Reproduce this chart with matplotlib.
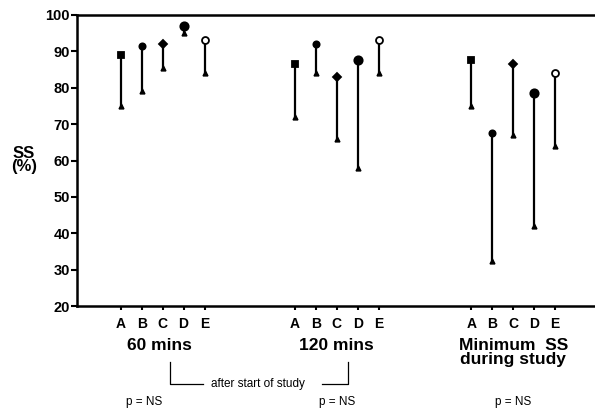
import matplotlib
matplotlib.use("Agg")
import matplotlib.pyplot as plt

plt.rcParams['font.family'] = ['Liberation Sans', 'DejaVu Sans']

letters = ['A', 'B', 'C', 'D', 'E']
groups = ['60 mins', '120 mins', 'Minimum  SS\nduring study']
p_labels = ['p = NS', 'p = NS', 'p = NS']

# top / bottom of each range, per group (A..E)
tops_60 = [89, 91.5, 92, 97, 93]
lows_60 = [75, 79, 85.5, 95, 84]
tops_120 = [86.5, 92, 83, 87.5, 93]
lows_120 = [72, 84, 66, 58, 84]
tops_min = [87.5, 67.5, 86.5, 78.5, 84]
lows_min = [75, 32.5, 67, 42, 64]

tops = [tops_60, tops_120, tops_min]
lows = [lows_60, lows_120, lows_min]
offsets = [0, 8.3, 16.7]

markers = ['s', 'o', 'D', 'o', 'o']
msizes = [4, 4.5, 4.5, 6, 5]
faces = ['black', 'black', 'black', 'black', 'white']

fig = plt.figure(figsize=(5.95, 4.09), dpi=100)
ax = fig.add_axes([77 / 595, 1 - 306 / 409, 1 - 77 / 595, 291 / 409])

xticks = []
xlabels = []
for g in range(3):
    for i in range(5):
        x = offsets[g] + i
        xticks.append(x)
        xlabels.append(letters[i])
        ax.vlines(x, lows[g][i], tops[g][i], color='black', lw=1.6)
        ax.plot(x, lows[g][i], marker='^', ms=3.5, color='black')
        ax.plot(x, tops[g][i], marker=markers[i], ms=msizes[i],
                mfc=faces[i], mec='black', mew=1.3, color='black')

ax.set_xlim(-2.08, 22.6)
ax.set_ylim(20, 100)
ax.set_yticks(range(20, 101, 10))
ax.set_xticks(xticks)
ax.set_xticklabels(xlabels, fontweight='bold', fontsize=10)
for lab in ax.get_yticklabels():
    lab.set_fontweight('bold')
    lab.set_fontsize(10.5)
ax.tick_params(axis='y', direction='out', length=4, width=1.5, pad=1)
ax.tick_params(axis='x', direction='out', length=3, width=1.5, pad=5)

ax.spines['right'].set_visible(False)
for s in ['left', 'top', 'bottom']:
    ax.spines[s].set_linewidth(1.8)

# group labels under the letters
trans = ax.get_xaxis_transform()
for g in range(3):
    cx = offsets[g] + 2
    ax.text(cx - (0.15 if g == 0 else 0), -0.11, groups[g], transform=trans,
            ha='center', va='top', fontsize=12.5, fontweight='bold',
            linespacing=0.9)
    ax.text(cx - (0.9 if g == 0 else 0), -0.33, p_labels[g], transform=trans,
            ha='center', va='center', fontsize=8.5)

# bracket "after start of study"
xl = offsets[0] + 2.35
xr = offsets[1] + 2.55
yb_top = -0.193
yb = -0.268
ax.plot([xl, xl, xl + 1.55], [yb_top, yb, yb], transform=trans,
        color='black', lw=0.9, clip_on=False)
ax.plot([xr - 1.25, xr, xr], [yb, yb, yb_top], transform=trans,
        color='black', lw=0.9, clip_on=False)
ax.text((xl + xr) / 2 - 0.05, yb, 'after start of study', transform=trans,
        ha='center', va='center', fontsize=8.5)

fig.text(24 / 595, 1 - 160 / 409, 'SS\n(%)', ha='center', va='center',
         fontsize=12, fontweight='bold', linespacing=0.85)

fig.savefig('out.png', dpi=100)
